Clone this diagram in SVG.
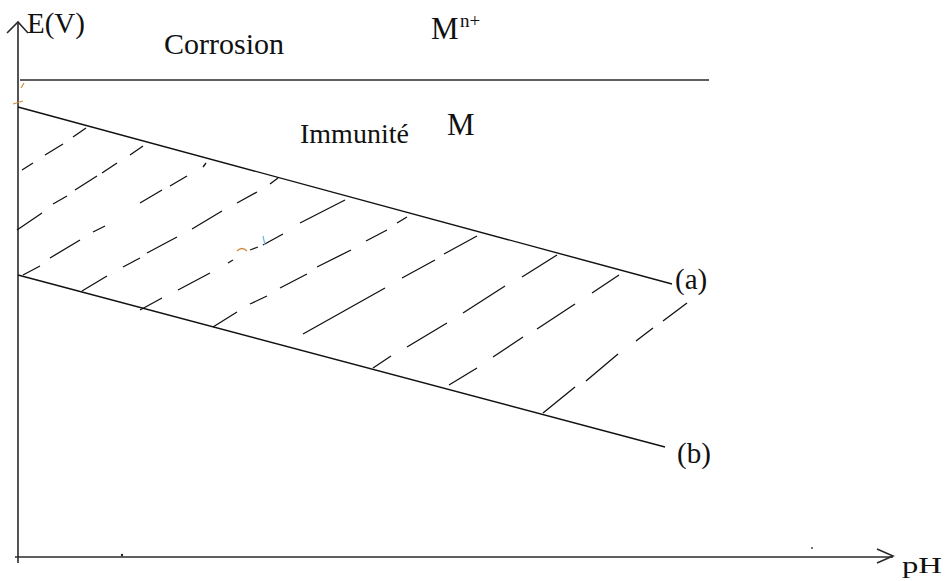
<svg xmlns="http://www.w3.org/2000/svg" width="947" height="581" viewBox="0 0 947 581">
<style>
.ax{stroke:#2a2a2a;stroke-width:1.6;fill:none}
.ln{stroke:#111;stroke-width:1.4;fill:none}
.ht{stroke:#111;stroke-width:1.3;fill:none;stroke-linecap:butt}
.tx{font-family:"Liberation Serif","Times New Roman",serif;fill:#111}
.mk{fill:none;stroke-width:1.2}
</style>
<rect width="947" height="581" fill="#fff"/>
<g id="axes">
<line class="ax" x1="18" y1="22" x2="18" y2="563"/>
<polyline class="ax" points="7,33 18,22 28,33"/>
<line class="ax" x1="15" y1="557" x2="893" y2="557"/>
<polyline class="ax" points="877,549 893,556 877,563"/>
<circle cx="122" cy="555" r="1.2" fill="#222"/>
<circle cx="812" cy="548" r="0.9" fill="#333"/>
</g>
<g id="boundaries">
<line class="ax" x1="20" y1="80" x2="709" y2="80"/>
<line id="line-a" class="ln" x1="18" y1="107" x2="672" y2="284"/>
<line id="line-b" class="ln" x1="18" y1="275" x2="665" y2="447"/>
</g>
<g id="hatch">
<path class="ht" d="M22,170L33,163M45,155L63,144M73,137L86,128"/>
<path class="ht" d="M17,230L42,213M53,204L67,196M75,190L97,176M102,173L117,163M130,155L143,146"/>
<path class="ht" d="M23,275L40,266M50,258L80,240M93,232L105,226M140,203L162,190M170,186L187,176M203,167L206,163"/>
<path class="ht" d="M82,291L107,276M123,267L140,258M147,253L177,237M192,229L222,211M237,203L257,192M270,184L278,178"/>
<path class="ht" d="M140,310L162,298M178,290L210,273M228,263L233,260M263,245L283,234M300,223L345,200"/>
<path class="ht" d="M213,327L237,312M250,304L267,296M280,288L307,274M317,267L351,250M366,241L387,230M397,223L407,217"/>
<path class="ht" d="M303,334L385,288M402,278L435,260M444,254L477,236"/>
<path class="ht" d="M373,368L391,356M407,347L447,323M463,313L505,286M522,277L557,255"/>
<path class="ht" d="M449,385L477,368M493,357L523,337M537,329L575,304M592,293L619,275"/>
<path class="ht" d="M543,413L575,387M586,381L618,354M636,341L653,328M663,321L687,303"/>
</g>
<g id="marks">
<path class="mk" stroke="#d08a3a" d="M13,104L23,101M21,88L24,83"/>
<path class="mk" stroke="#d08a3a" d="M237,251Q242,246 247,251"/>
<path class="mk" stroke="#222" d="M250,250L258,247"/>
<path class="mk" stroke="#6ab4e8" d="M263,236L265,245"/>
</g>
<g id="labels">
<text class="tx" x="27" y="33" font-size="29">E(V)</text>
<text class="tx" x="164" y="54" font-size="30">Corrosion</text>
<text class="tx" x="431" y="39" font-size="31">M</text>
<text class="tx" x="460" y="27" font-size="19">n+</text>
<text class="tx" x="300" y="143" font-size="28">Immunité</text>
<text class="tx" x="447" y="135" font-size="31">M</text>
<text class="tx" x="675" y="289" font-size="29">(a)</text>
<text class="tx" x="677" y="463" font-size="29">(b)</text>
<text class="tx" x="902" y="573" font-size="24" textLength="40" lengthAdjust="spacingAndGlyphs">pH</text>
</g>
</svg>
